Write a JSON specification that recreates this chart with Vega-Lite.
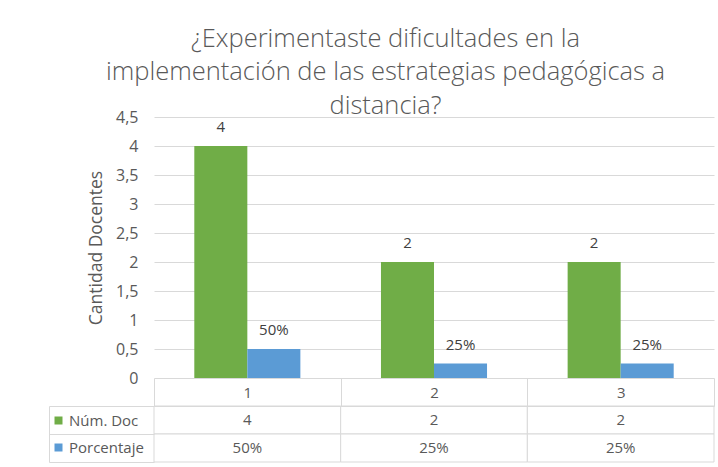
{
  "$schema": "https://vega.github.io/schema/vega-lite/v6.json",
  "background": "white",
  "padding": {"left": 48, "top": 26, "right": 5, "bottom": 5},
  "autosize": {"type": "pad"},
  "config": {
    "font": "Open Sans",
    "view": {"stroke": null},
    "axis": {"labelColor": "#595959", "labelFontSize": 16, "titleColor": "#595959", "titleFontWeight": "normal", "titleFontSize": 17.5, "labelFont": "Open Sans", "titleFont": "Open Sans"},
    "legend": {"labelFont": "Open Sans"}
  },
  "title": {
    "text": ["¿Experimentaste dificultades en la", "implementación de las estrategias pedagógicas a", "distancia?"],
    "fontSize": 25.5,
    "fontWeight": 300,
    "font": "Open Sans",
    "color": "#595959",
    "anchor": "middle",
    "frame": "bounds",
    "lineHeight": 33.5,
    "offset": -10,
    "dx": 4
  },
  "data": {
    "values": [
      {"cat": "1", "series": "Núm. Doc", "value": 4, "label": "4"},
      {"cat": "1", "series": "Porcentaje", "value": 0.5, "label": "50%"},
      {"cat": "2", "series": "Núm. Doc", "value": 2, "label": "2"},
      {"cat": "2", "series": "Porcentaje", "value": 0.25, "label": "25%"},
      {"cat": "3", "series": "Núm. Doc", "value": 2, "label": "2"},
      {"cat": "3", "series": "Porcentaje", "value": 0.25, "label": "25%"}
    ]
  },
  "bounds": "flush",
  "spacing": 28,
  "vconcat": [
    {
      "width": 560,
      "height": 261,
      "encoding": {
        "x": {"field": "cat", "type": "nominal", "scale": {"paddingInner": 0, "paddingOuter": 0}, "axis": null},
        "xOffset": {"field": "series", "type": "nominal", "scale": {"paddingInner": 0, "paddingOuter": 0.76}},
        "y": {
          "field": "value",
          "type": "quantitative",
          "scale": {"domain": [0, 4.5], "nice": false},
          "axis": {
            "values": [0, 0.5, 1, 1.5, 2, 2.5, 3, 3.5, 4, 4.5],
            "labelExpr": "replace(format(datum.value, '.1~f'), '.', ',')",
            "grid": true,
            "gridColor": "#d9d9d9",
            "domain": false,
            "ticks": false,
            "labelPadding": 16,
            "title": "Cantidad Docentes",
            "titlePadding": 10
          }
        }
      },
      "layer": [
        {
          "mark": {"type": "bar"},
          "encoding": {
            "color": {
              "field": "series",
              "type": "nominal",
              "scale": {"domain": ["Núm. Doc", "Porcentaje"], "range": ["#70ad47", "#5b9bd5"]},
              "legend": {
                "orient": "none",
                "legendX": -103,
                "legendY": 296,
                "title": null,
                "symbolType": "square",
                "symbolSize": 64,
                "symbolStrokeWidth": 0,
                "labelFontSize": 15,
                "labelColor": "#595959",
                "labelOffset": 3,
                "rowPadding": 11,
                "padding": 0
              }
            }
          }
        },
        {
          "mark": {"type": "text", "dy": -19, "fontSize": 15, "color": "#404040", "font": "Open Sans"},
          "encoding": {"text": {"field": "label"}}
        }
      ]
    },
    {
      "width": 560,
      "height": 56,
      "encoding": {
        "x": {
          "field": "cat",
          "type": "nominal",
          "scale": {"paddingInner": 0, "paddingOuter": 0},
          "axis": {
            "orient": "top",
            "tickBand": "extent",
            "tickSize": 28,
            "tickColor": "#d9d9d9",
            "domainColor": "#d9d9d9",
            "labelAngle": 0,
            "labelFontSize": 15,
            "labelPadding": -22,
            "title": null
          }
        },
        "y": {
          "field": "series",
          "type": "nominal",
          "scale": {"paddingInner": 0, "paddingOuter": 0},
          "axis": {
            "offset": 105,
            "tickBand": "extent",
            "tickSize": -105,
            "tickColor": "#d9d9d9",
            "domainColor": "#d9d9d9",
            "labels": false,
            "title": null
          }
        }
      },
      "layer": [
        {"mark": {"type": "rect", "fill": "white", "stroke": "#d9d9d9"}},
        {
          "mark": {"type": "text", "fontSize": 15, "color": "#595959", "font": "Open Sans"},
          "encoding": {"text": {"field": "label"}}
        }
      ]
    }
  ]
}
